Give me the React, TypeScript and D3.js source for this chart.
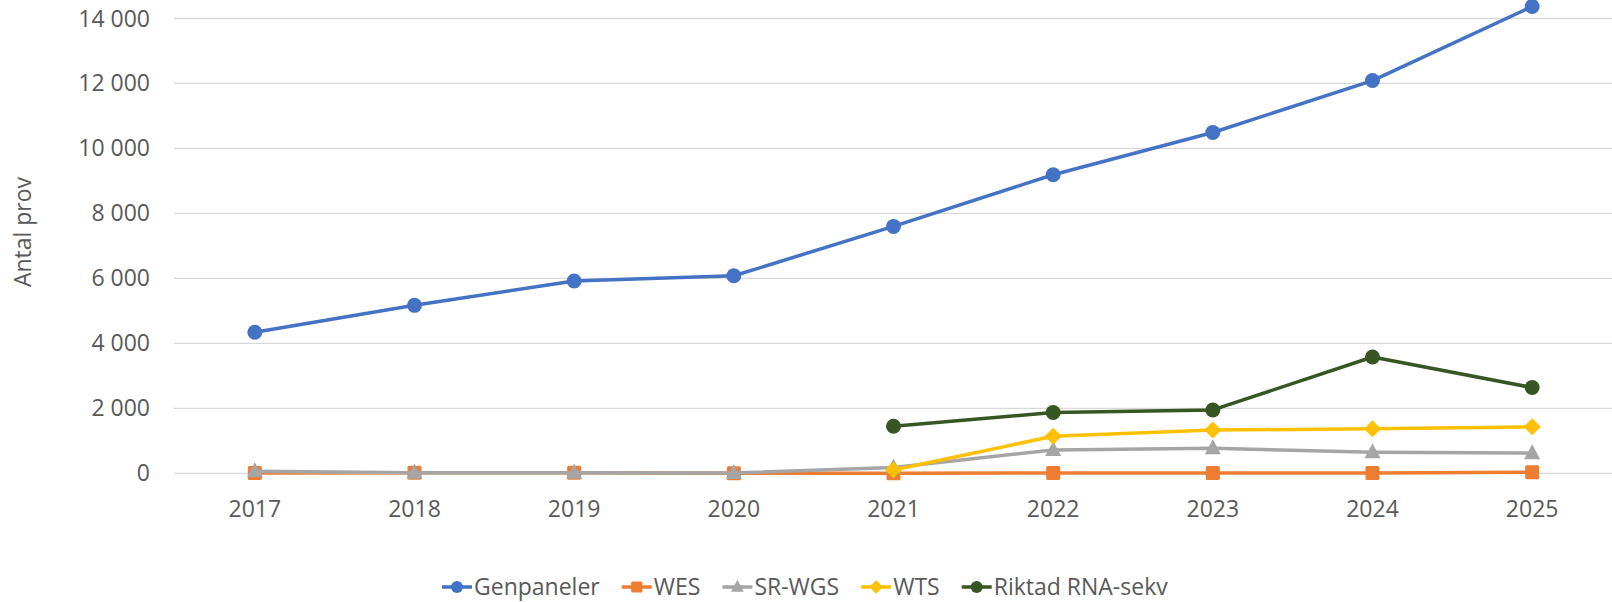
import { useEffect, useRef } from 'react'
import * as d3 from 'd3'

const years = ['2017', '2018', '2019', '2020', '2021', '2022', '2023', '2024', '2025']
const genpaneler = [4340, 5170, 5920, 6080, 7600, 9190, 10490, 12090, 14370]
const wes = [10, 20, 20, 5, 5, 10, 10, 10, 30]
const srWgs = [60, 20, 20, 10, 180, 720, 770, 650, 620]
const wts = [null, null, null, null, 100, 1140, 1330, 1370, 1430]
const riktad = [null, null, null, null, 1450, 1870, 1950, 3580, 2640]
const yTicks = [0, 2000, 4000, 6000, 8000, 10000, 12000, 14000]

type Series = { name: string; values: (number | null)[]; color: string; symbol: string }

const series: Series[] = [
  { name: 'Genpaneler', values: genpaneler, color: '#4472C4', symbol: 'circle' },
  { name: 'WES', values: wes, color: '#ED7D31', symbol: 'square' },
  { name: 'SR-WGS', values: srWgs, color: '#A5A5A5', symbol: 'triangle' },
  { name: 'WTS', values: wts, color: '#FFC000', symbol: 'diamond' },
  { name: 'Riktad RNA-sekv', values: riktad, color: '#375623', symbol: 'circle' },
]

const FONT = '"Open Sans", sans-serif'
const TEXT = '#595959'

// k scales the marker (legend markers are a bit smaller)
function drawMarker(g: any, symbol: string, cx: number, cy: number, color: string, k = 1) {
  if (symbol === 'circle') {
    g.append('circle').attr('cx', cx).attr('cy', cy).attr('r', 7.5 * k).attr('fill', color)
  } else if (symbol === 'square') {
    const s = 7 * k
    g.append('rect').attr('x', cx - s).attr('y', cy - s).attr('width', 2 * s).attr('height', 2 * s)
      .attr('rx', 1.5).attr('fill', color)
  } else if (symbol === 'triangle') {
    g.append('path').attr('d', `M${cx},${cy - 9 * k}L${cx + 8 * k},${cy + 6 * k}L${cx - 8 * k},${cy + 6 * k}Z`)
      .attr('fill', color)
  } else {
    const s = 8.5 * k
    g.append('path').attr('d', `M${cx},${cy - s}L${cx + s},${cy}L${cx},${cy + s}L${cx - s},${cy}Z`)
      .attr('fill', color)
  }
}

export default function App() {
  const ref = useRef<SVGSVGElement>(null)
  const width = 1612
  const height = 602

  useEffect(() => {
    const el = ref.current
    if (!el) return
    const svg = d3.select(el)
    svg.selectAll('*').remove()

    const margin = { top: 18.5, right: 0, bottom: 128.7, left: 175 }
    const x = d3.scaleBand().domain(years).range([margin.left, width - margin.right]).padding(0)
    const cx = (d: string) => (x(d) ?? 0) + x.bandwidth() / 2
    const y = d3.scaleLinear().domain([0, 14000]).range([height - margin.bottom, margin.top])
    const fmt = (v: number) => d3.format(',')(v).replace(/,/g, ' ')

    // grid
    svg.append('g')
      .selectAll('line')
      .data(yTicks)
      .join('line')
      .attr('x1', margin.left - 1)
      .attr('x2', width)
      .attr('y1', (d) => y(d))
      .attr('y2', (d) => y(d))
      .attr('stroke', '#D9D9D9')
      .attr('stroke-width', 1.3)

    svg.append('g')
      .selectAll('text')
      .data(yTicks)
      .join('text')
      .attr('x', 150)
      .attr('y', (d) => y(d) + 8)
      .attr('text-anchor', 'end')
      .attr('font-family', FONT)
      .attr('font-size', 23)
      .attr('fill', TEXT)
      .text((d) => fmt(d))

    svg.append('g')
      .selectAll('text')
      .data(years)
      .join('text')
      .attr('x', (d) => cx(d))
      .attr('y', 517)
      .attr('text-anchor', 'middle')
      .attr('font-family', FONT)
      .attr('font-size', 23)
      .attr('fill', TEXT)
      .text((d) => d)

    svg.append('text')
      .attr('transform', `translate(31,232) rotate(-90)`)
      .attr('text-anchor', 'middle')
      .attr('font-family', FONT)
      .attr('font-size', 23)
      .attr('fill', TEXT)
      .text('Antal prov')

    // series
    series.forEach((s) => {
      const pts = years.map((yr, i) => ({ yr, v: s.values[i] }))
      const line = d3.line<{ yr: string; v: number | null }>()
        .defined((d) => d.v != null)
        .x((d) => cx(d.yr))
        .y((d) => y(d.v as number))
      const g = svg.append('g')
      g.append('path')
        .attr('d', line(pts))
        .attr('fill', 'none')
        .attr('stroke', s.color)
        .attr('stroke-width', 3.5)
        .attr('stroke-linejoin', 'round')
      pts.filter((d) => d.v != null).forEach((d) => drawMarker(g, s.symbol, cx(d.yr), y(d.v as number), s.color))
    })

    // legend
    const leg = svg.append('g')
    let lx = 442
    const ly = 587
    series.forEach((s) => {
      const g = leg.append('g')
      g.append('line').attr('x1', lx).attr('x2', lx + 30).attr('y1', ly).attr('y2', ly)
        .attr('stroke', s.color).attr('stroke-width', 3.5)
      drawMarker(g, s.symbol, lx + 15, ly, s.color, 0.8)
      const t = g.append('text')
        .attr('x', lx + 32)
        .attr('y', ly + 8)
        .attr('font-family', FONT)
        .attr('font-size', 23)
        .attr('fill', TEXT)
        .text(s.name)
      const tw = (t.node() as SVGTextElement).getComputedTextLength()
      lx += 32 + tw + 22
    })
  }, [])

  return (
    <svg
      ref={ref}
      width={width}
      height={height}
      style={{ position: 'absolute', left: 0, top: 0, background: '#fff' }}
    />
  )
}
